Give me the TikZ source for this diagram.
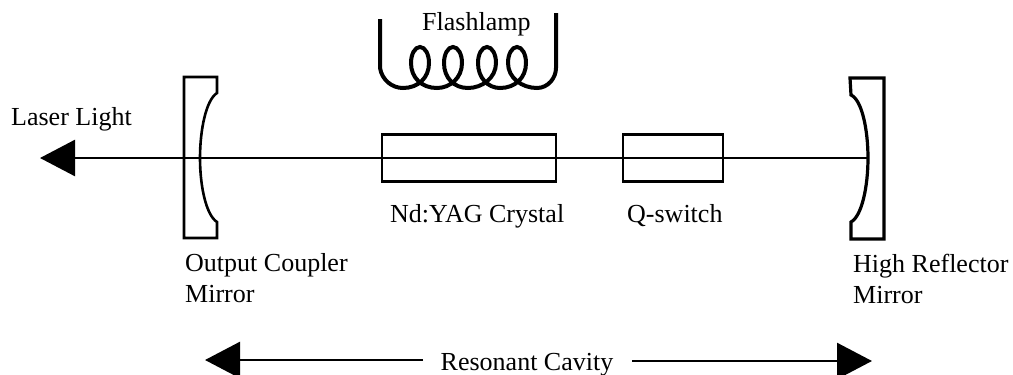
\documentclass[tikz,border=0pt]{standalone}
\usepackage{fontspec}
\setmainfont{Liberation Serif}
\usetikzlibrary{arrows.meta}
\begin{document}
\begin{tikzpicture}[x=1pt,y=-1pt,
  lbl/.style={font=\fontsize{26}{26}\selectfont,inner sep=0pt,anchor=base west},
  optic/.style={draw,line width=2.6pt,minimum height=47pt,inner sep=0pt},
  bigarrow/.style={line width=2.6pt,-{Triangle[length=35pt,width=36pt]}},
  mirror/.style={line width=2.6pt,line join=miter},
  lamp/.style={line width=4pt}]
\useasboundingbox (0,0) rectangle (1013,375);
\node[optic,minimum width=174pt] (crystal) at (469,158) {};
\node[optic,minimum width=100pt] (qswitch) at (673,158) {};
\coordinate (tip) at (40,158);
\coordinate (hr) at (868,158);
\draw[bigarrow] (hr) -- (tip);
\draw[mirror] (184,77) -- (217,77) -- (217,93) .. controls (206,100) and (200,130) .. (200,158) .. controls (200,186) and (206,215) .. (217,222) -- (217,238) -- (184,238) -- cycle;
\draw[mirror,line width=3.2pt] (850,78) -- (884,78) -- (884,239) -- (851,239) -- (851,222) .. controls (862,216) and (868,186) .. (868,158) .. controls (868,130) and (862,100) .. (851,95) -- cycle;
\draw[lamp] (380,19) -- (380,68) .. controls (382,80) and (392,88) .. (403,88)
 .. controls (418,88) and (429,78) .. (429,63) .. controls (429,54) and (425,47) .. (420,47) .. controls (415,47) and (411,54) .. (411,63) .. controls (411,78) and (422,88) .. (437,88)
 .. controls (450,88) and (462,78) .. (462,63) .. controls (462,54) and (458,47) .. (453,47) .. controls (448,47) and (444,54) .. (444,63) .. controls (444,78) and (454,88) .. (468,88)
 .. controls (482,88) and (496,78) .. (496,63) .. controls (496,54) and (492,47) .. (487,47) .. controls (482,47) and (478,54) .. (478,63) .. controls (478,78) and (488,88) .. (500,88)
 .. controls (515,88) and (526,78) .. (526,63) .. controls (526,54) and (522,47) .. (517,47) .. controls (512,47) and (508,54) .. (508,63) .. controls (508,78) and (522,88) .. (537,88)
 .. controls (548,88) and (556,78) .. (556,68) -- (556,13);
\node[lbl] (flash) at (422,30) {Flashlamp};
\node[lbl] (laser) at (11,125) {Laser Light};
\node[lbl] (ndyag) at (390,222) {Nd:YAG Crystal};
\node[lbl] (qs) at (627,222) {Q-switch};
\node[lbl] (oc) at (185,271) {Output Coupler};
\node[lbl] (ocm) at (185,302) {Mirror};
\node[lbl] (hrl) at (853,272) {High Reflector};
\node[lbl] (hrm) at (853,303) {Mirror};
\node[lbl,anchor=base] (cav) at (527,370) {Resonant Cavity};
\coordinate (cl) at (205,360);
\coordinate (cr) at (872,361);
\coordinate (cavl) at (423,360);
\coordinate (cavr) at (632,361);
\draw[bigarrow] (cavl) -- (cl);
\draw[bigarrow] (cavr) -- (cr);
\end{tikzpicture}
\end{document}
